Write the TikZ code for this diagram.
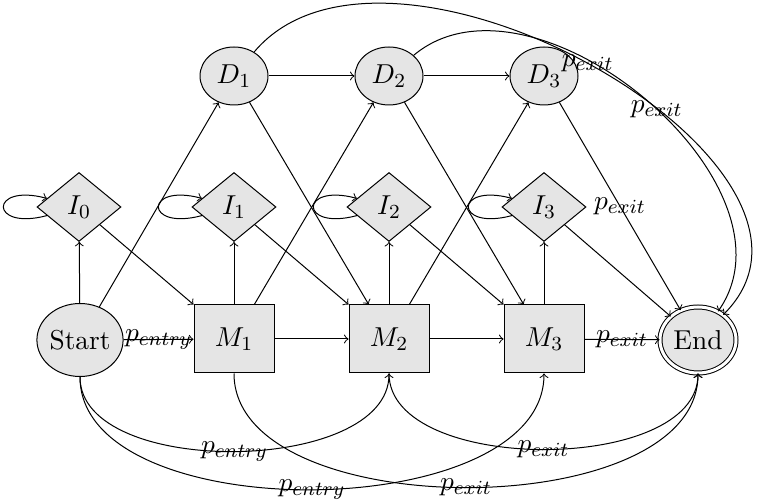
\documentclass[tikz,border=0pt]{standalone}
\usepackage{tikz}
\usetikzlibrary{positioning}
\usetikzlibrary{shapes.geometric}
\tikzset{
    % Plain thin arrow heads everywhere
    >=to,
%
    % Slightly larger text than the default
    every node/.style={font=\fontsize{10.95}{13.6}\selectfont},
%
    % Common light fill for all the states
    state fill/.style={fill=black!10},
%
    % Match states are drawn as boxes
    match state/.style={
        draw, rectangle, state fill, inner sep=0pt,
        minimum width=32pt, minimum height=27.2pt},
%
    % Insert states are drawn as diamonds
    insert state/.style={
        draw, diamond, state fill, inner sep=0pt,
        minimum width=33.6pt, minimum height=27.6pt},
%
    % Delete states are small ellipses
    delete state/.style={
        draw, ellipse, state fill, inner sep=0pt,
        minimum width=27.2pt, minimum height=23.2pt},
%
    % Self loop on the insert states
    self loop/.style={loop left, min distance=24pt}}

\begin{document}
\begin{tikzpicture}[x=0.4pt, y=-0.4pt]

\useasboundingbox (0,0) rectangle (760,504);

\node (start) [draw, ellipse, state fill, inner sep=0pt,
    minimum width=34.4pt, minimum height=29.2pt] at (80,340) {Start};
\node (m1) [match state] at (234,339) {$M_1$};
\node (m2) [match state] at (389,339) {$M_2$};
\node (m3) [match state] at (544,339) {$M_3$};
\node (end) [draw, ellipse, double, double distance=1.2pt, state fill,
    inner sep=0pt, minimum width=30.4pt, minimum height=26.4pt]
    at (698,340) {End};

\node (i0) [insert state] at (79,207) {$I_0$};
\node (i1) [insert state] at (234,207) {$I_1$};
\node (i2) [insert state] at (389,207) {$I_2$};
\node (i3) [insert state] at (544,207) {$I_3$};

\node (d1) [delete state] at (234,76) {$D_1$};
\node (d2) [delete state] at (389,76) {$D_2$};
\node (d3) [delete state] at (544,76) {$D_3$};

% main line
\draw [->] (start) -- node {$p_{entry}$} (m1);
\draw [->] (m1) -- (m2);
\draw [->] (m2) -- (m3);
\draw [->] (m3) -- node {$p_{exit}$} (end);

% into the insert states
\draw [->] (start) -- (i0);
\draw [->] (m1) -- (i1);
\draw [->] (m2) -- (i2);
\draw [->] (m3) -- (i3);
\draw [->] (i0) to [self loop] (i0);
\draw [->] (i1) to [self loop] (i1);
\draw [->] (i2) to [self loop] (i2);
\draw [->] (i3) to [self loop] (i3);
\draw [->] (i0) -- (m1);
\draw [->] (i1) -- (m2);
\draw [->] (i2) -- (m3);
\draw [->] (i3) -- (end);

% delete states
\draw [->] (start) -- (d1);
\draw [->] (m1) -- (d2);
\draw [->] (m2) -- (d3);
\draw [->] (d1) -- (d2);
\draw [->] (d2) -- (d3);
\draw [->] (d1) -- (m2);
\draw [->] (d2) -- (m3);
\draw [->] (d3) -- node {$p_{exit}$} (end);
\draw [->] (d1) to [out=50, in=45] node [pos=0.49] {$p_{exit}$} (end);
\draw [->] (d2) to [out=40, in=55] node [pos=0.53] {$p_{exit}$} (end);

% skips underneath
\draw [->] (start) to [out=-90, in=-90, looseness=0.84]
    node {$p_{entry}$} (m2);
\draw [->] (start) to [out=-90, in=-90, looseness=0.84]
    node {$p_{entry}$} (m3);
\draw [->] (m1) to [out=-90, in=-90, looseness=0.84]
    node {$p_{exit}$} (end);
\draw [->] (m2) to [out=-90, in=-90, looseness=0.84]
    node {$p_{exit}$} (end);

\end{tikzpicture}
\end{document}
